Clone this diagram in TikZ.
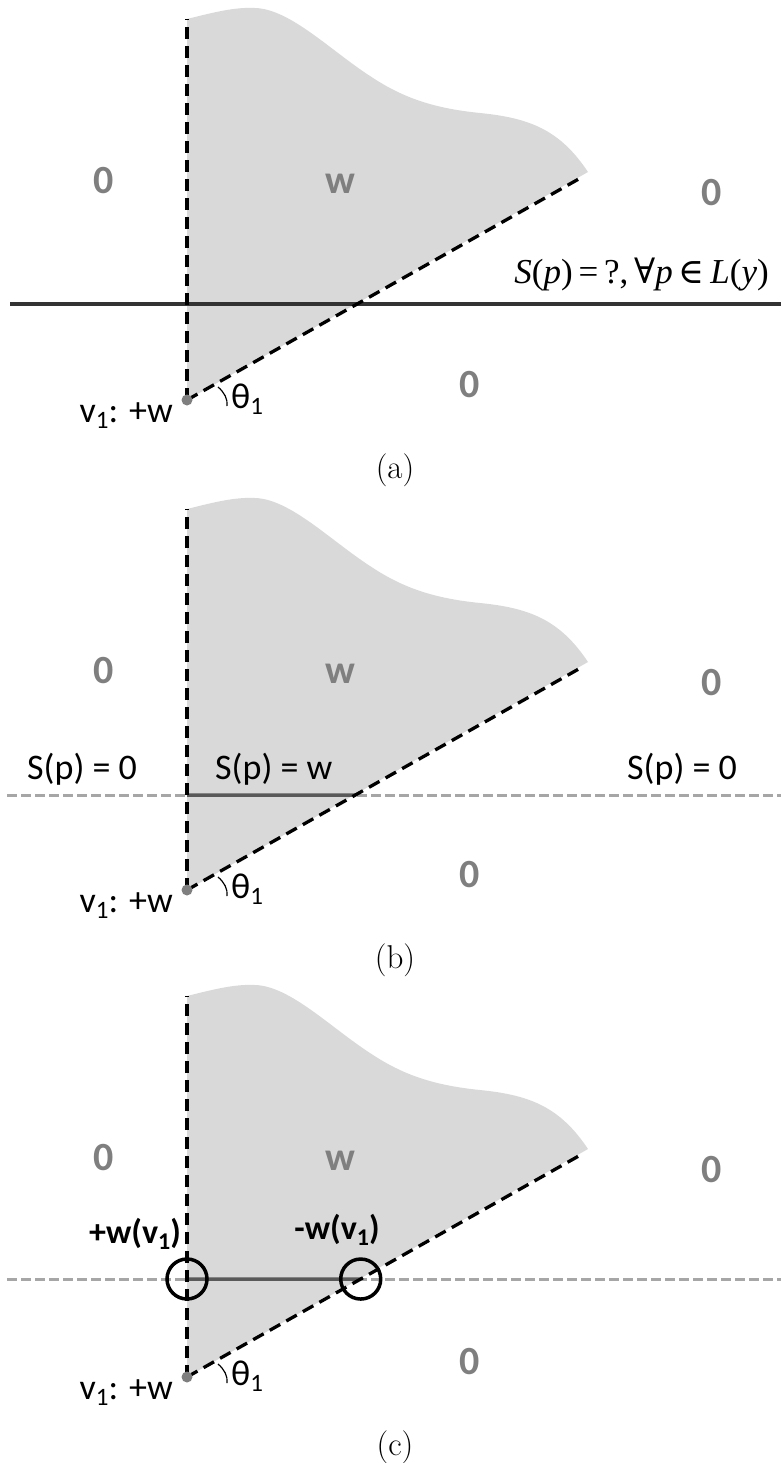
\documentclass[tikz,border=0pt]{standalone}
\usepackage{fontspec}
\newfontfamily\calibri{Carlito}
\newfontfamily\timesf{Liberation Serif}
\newfontfamily\dvserif{DejaVu Serif}
\definecolor{regionfill}{HTML}{D9D9D9}
\definecolor{labelgray}{HTML}{7F7F7F}
\definecolor{linegray}{HTML}{A6A6A6}
\definecolor{segdark}{HTML}{595959}
\definecolor{axisdark}{HTML}{333333}
\tikzset{
  region/.style={font=\calibri\bfseries\fontsize{40}{40}\selectfont, text=labelgray, inner sep=0pt},
  sans/.style={font=\calibri\fontsize{36}{40}\selectfont, inner sep=0pt},
  boldsans/.style={font=\calibri\bfseries\fontsize{34}{38}\selectfont, inner sep=0pt},
  captionfont/.style={font=\fontsize{33}{36}\selectfont, inner sep=0pt},
  bdash/.style={draw=black, line width=3.3pt, dash pattern=on 12pt off 7pt},
  gdash/.style={draw=linegray, line width=3pt, dash pattern=on 10pt off 4pt},
  seg/.style={draw=segdark, line width=3.5pt},
  axisline/.style={draw=axisdark, line width=3.5pt},
  mark circle/.style={draw=black, line width=3.5pt},
}
\newcommand\lsub[2]{\lower#1pt\hbox{\fontsize{#2}{#2}\selectfont 1}}
% #1 y offset, #2 suffix
\newcommand\panelbase[2]{%
  \begin{scope}[shift={(0,#1)}]
    \coordinate (V#2) at (187,400);
    \coordinate (T#2) at (187,19);
    \coordinate (E#2) at (584,176);
    \fill[regionfill] (V#2) -- (T#2)
      .. controls (215,12) and (235,7) .. (255,8)
      .. controls (290,9) and (330,50) .. (370,76)
      .. controls (400,96) and (430,108) .. (480,113)
      .. controls (530,118) and (560,130) .. (588,172) -- cycle;
  \end{scope}}
\newcommand\panelrest[3]{% #1 offset, #2 suffix, #3 caption
  \begin{scope}[shift={(0,#1)}]
    \draw[bdash] (V#2) -- (T#2);
    \draw[bdash] (V#2) -- (E#2);
    \fill[labelgray] (V#2) circle[radius=5.5pt];
    \draw[line width=1.2pt] (218,387) .. controls (224,392) and (228,399) .. (227,406);
    \node[region] (zl#2) at (104,181) {0};
    \node[region] (w#2) at (340,184) {w};
    \node[region] (zr#2) at (712,193) {0};
    \node[region] (zb#2) at (470,385) {0};
    \node[sans, anchor=base east] (vl#2) at (173,422) {v\lsub{6}{25}: +w};
    \node[sans, anchor=base west] (th#2) at (231,408) {θ\lsub{6}{25}};
    \node[captionfont] (cap#2) at (395,470) {#3};
  \end{scope}}
\begin{document}
\begin{tikzpicture}[x=1pt,y=-1pt]
\useasboundingbox (0,0) rectangle (781,1463);
% ---------- (a)
\panelbase{0}{a}
\coordinate (La) at (10,304);
\coordinate (Ra) at (781,304);
\draw[axisline] (La) -- (Ra);
\panelrest{0}{a}{(a)}
\node[font=\timesf\fontsize{35}{36}\selectfont, inner sep=0pt, anchor=base east] (eqa) at (769,283)
  {\textit{S}(\textit{p})\,=\,?,\,{\dvserif ∀}\textit{p}\,{\dvserif ∈}\,\textit{L}(\textit{y})};
% ---------- (b)
\panelbase{490}{b}
\coordinate (Lb) at (7,795);
\coordinate (Rb) at (781,795);
\coordinate (Pb) at (187,795);
\draw[gdash] (Lb) -- (Rb);
\draw[seg] (Pb) -- (intersection of Vb--Eb and Lb--Rb);
\panelrest{490}{b}{(b)}
\node[sans, anchor=base west] (s1b) at (27,779) {S(p) = 0};
\node[sans, anchor=base west] (s2b) at (215,779) {S(p) = w};
\node[sans, anchor=base west] (s3b) at (627,779) {S(p) = 0};
% ---------- (c)
\panelbase{977}{c}
\coordinate (Lc) at (7,1279);
\coordinate (Rc) at (781,1279);
\coordinate (Pc) at (187,1279);
\coordinate (Qc) at (intersection of Vc--Ec and Lc--Rc);
\draw[gdash] (Lc) -- (Rc);
\draw[seg] (Pc) -- (Qc);
\panelrest{977}{c}{(c)}
\draw[mark circle] (Pc) circle[radius=20pt];
\draw[mark circle] (Qc) circle[radius=20pt];
\node[boldsans, anchor=base] (pw) at (135,1243) {+w(v\lsub{6}{24})};
\node[boldsans, anchor=base] (mw) at (337,1239) {-w(v\lsub{6}{24})};
\end{tikzpicture}
\end{document}
